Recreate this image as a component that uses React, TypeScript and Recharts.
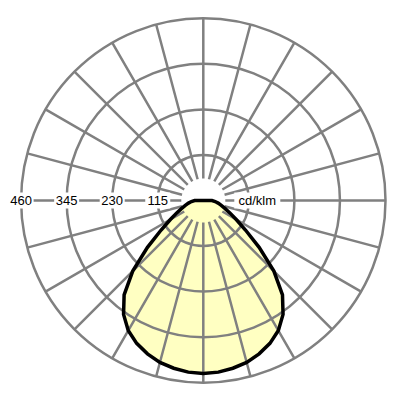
import { RadarChart, Radar, PolarGrid, PolarAngleAxis, PolarRadiusAxis } from "recharts";

// luminous intensity (cd/klm) for gamma 0..180 in 5 degree steps
const gammaAngles = [0, 5, 10, 15, 20, 25, 30, 35, 40, 45, 50, 55, 60, 65, 70, 75, 80, 85, 90,
  95, 100, 105, 110, 115, 120, 125, 130, 135, 140, 145, 150, 155, 160, 165, 170, 175, 180];
const intensity = [437, 435, 430, 423, 412, 398, 379, 351, 311, 252, 184, 130, 96, 74, 58, 47, 38, 30, 22,
  0, 0, 0, 0, 0, 0, 0, 0, 0, 0, 0, 0, 0, 0, 0, 0, 0, 0];

const radiusTicks = [115, 230, 345, 460];
const spokeAngles = [0, 15, 30, 45, 60, 75, 90, 105, 120, 135, 150, 165, 180, 195, 210, 225, 240, 255, 270, 285, 300, 315, 330, 345];
const unitLabel = "cd/klm";

// C0-C180 plane, mirrored so the full circle is covered
const data = Array.from({ length: 72 }, (_, i) => {
  const k = i <= 36 ? i : 72 - i;
  return { angle: i * 5, value: intensity[k], gamma: gammaAngles[k] };
});

const CX = 195.3;
const CY = 192.5;
const R = 182.2;
const HOLE = 22;
const GRID = "#808080";
const FONT = "'Liberation Sans', Arial, sans-serif";

function Boxed({ x, y, label }: { x: number; y: number; label: string }) {
  const w = label.length * 7 + 4;
  return (
    <g>
      <rect x={x - w / 2} y={y - 8} width={w} height={16} fill="#fff" />
      <text x={x} y={y} textAnchor="middle" dominantBaseline="central" fontSize={13} fontFamily={FONT} fill="#000">
        {label}
      </text>
    </g>
  );
}

function RadiusTick(props: any) {
  const { x, y, payload, index } = props;
  return (
    <g>
      <Boxed x={x} y={y} label={String(payload.value)} />
      {/* unit label sits on the opposite side of the centre */}
      {index === 0 && <Boxed x={CX + 54} y={y} label={unitLabel} />}
    </g>
  );
}

export default function App() {
  return (
    <RadarChart width={384} height={384} data={data} cx={CX} cy={CY} innerRadius={0} outerRadius={R}
      startAngle={-90} endAngle={-450} margin={{ top: 0, right: 0, bottom: 0, left: 0 }}>
      <PolarAngleAxis dataKey="angle" tick={false} axisLine={false} tickLine={false} />
      <Radar dataKey="value" fill="#FFFFC2" fillOpacity={1} stroke="none" isAnimationActive={false} zIndex={100} />
      {/* rings */}
      <PolarGrid gridType="circle" radialLines={false} stroke={GRID} strokeWidth={2.5} strokeOpacity={1} zIndex={200} />
      {/* spokes, starting a little away from the centre */}
      <PolarGrid gridType="circle" polarAngles={spokeAngles} polarRadius={[1]} stroke={GRID} strokeWidth={2.5}
        strokeOpacity={1} strokeDasharray={`0 ${HOLE} 400`} zIndex={200} />
      <Radar dataKey="value" fill="none" fillOpacity={0} stroke="#000" strokeWidth={3.5} isAnimationActive={false} zIndex={300} />
      <PolarRadiusAxis angle={180} type="number" domain={[0, 460]} ticks={radiusTicks} axisLine={false} tickLine={false}
        tick={<RadiusTick />} zIndex={500} />
    </RadarChart>
  );
}
